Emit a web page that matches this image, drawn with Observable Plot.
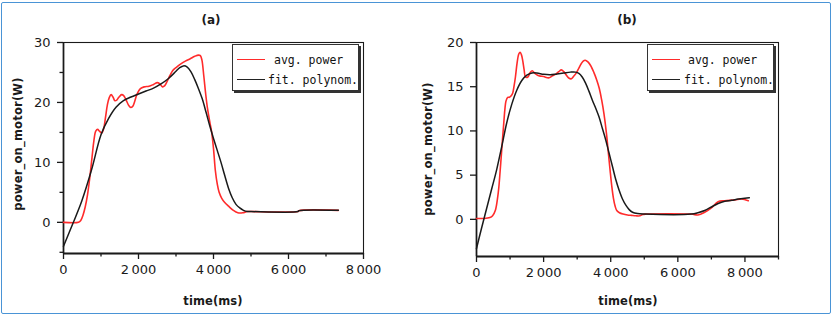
<!DOCTYPE html>
<html>
<head>
<meta charset="utf-8">
<script src="https://cdn.jsdelivr.net/npm/d3@7"></script>
<script src="https://cdn.jsdelivr.net/npm/@observablehq/plot@0.6"></script>
<style>
  html, body { margin: 0; padding: 0; background: #fff; }
  #wrap { position: relative; width: 835px; height: 317px; background: #fff; overflow: hidden; font-family: "DejaVu Sans", sans-serif; color: #1a1a1a; }
  #border { position: absolute; left: 0.5px; top: 1.5px; width: 828px; height: 310px; border: 1.6px solid #4a94d6; border-radius: 2px; }
  .panel { position: absolute; top: 0; }
  .title { position: absolute; font-size: 12px; font-weight: bold; transform: translate(-50%, -50%); white-space: nowrap; }
  .xlab { position: absolute; font-size: 11.5px; font-weight: bold; transform: translate(-50%, -50%); white-space: nowrap; letter-spacing: 0.1px; }
  .ylab { position: absolute; font-size: 11.5px; font-weight: bold; transform: translate(-50%, -50%) rotate(-90deg); white-space: nowrap; letter-spacing: 0.2px; }
  .legend { position: absolute; top: 43.5px; width: 125px; height: 45px; border: 1px solid #333; box-shadow: 2px 2px 0 #333; background: #fff; }
  .legend .sw { position: absolute; left: 4px; width: 28px; height: 0; border-top: 1.6px solid; }
  .legend .lt { position: absolute; font-family: "DejaVu Sans Mono", monospace; font-size: 11.5px; line-height: 12px; transform: translateY(-50%); white-space: nowrap; color: #111; }
</style>
</head>
<body>
<div id="wrap">
  <div id="border"></div>
  <div id="pa" class="panel" style="left:0"></div>
  <div id="pb" class="panel" style="left:417px"></div>

  <div class="title" style="left:211px;top:20px">(a)</div>
  <div class="title" style="left:627px;top:20px">(b)</div>
  <div class="xlab" style="left:213px;top:301px">time(ms)</div>
  <div class="xlab" style="left:628px;top:301px">time(ms)</div>
  <div class="ylab" style="left:18px;top:144px">power_on_motor(W)</div>
  <div class="ylab" style="left:428px;top:149px">power_on_motor(W)</div>

  <div class="legend" style="left:232px">
    <div class="sw" style="top:14.5px;border-color:#ff2b2b"></div>
    <div class="lt" style="left:41px;top:15px">avg. power</div>
    <div class="sw" style="top:34.5px;border-color:#222"></div>
    <div class="lt" style="left:35px;top:35px">fit. polynom.</div>
  </div>
  <div class="legend" style="left:647px">
    <div class="sw" style="top:14.5px;border-color:#ff2b2b"></div>
    <div class="lt" style="left:40px;top:15px">avg. power</div>
    <div class="sw" style="top:34.5px;border-color:#222"></div>
    <div class="lt" style="left:36px;top:35px">fit. polynom.</div>
  </div>
</div>
<script>
// Panel (a): measured average power and fitted polynomial, [time ms, power W]
const avgPowerA = [
  [0,0],[400,0],[460,0.3],[520,1.2],[580,2.6],[640,4.6],[700,7.4],[760,10.8],[810,13.6],
  [860,15.2],[910,15.5],[960,15.2],[1020,14.9],[1070,15.6],[1120,17.5],[1170,19.6],[1220,20.8],
  [1270,21.3],[1320,20.9],[1370,20.3],[1420,20.4],[1480,20.9],[1550,21.3],[1610,21.1],[1670,20.4],
  [1730,19.6],[1780,19.2],[1840,19.3],[1900,20.2],[1960,21.4],[2050,22.3],[2150,22.6],[2280,22.7],
  [2400,23.0],[2500,23.3],[2570,23.1],[2640,22.6],[2700,22.8],[2770,23.6],[2840,24.5],[2910,25.3],
  [3000,25.8],[3120,26.4],[3250,26.9],[3380,27.3],[3500,27.7],[3600,27.9],[3650,27.8],[3690,27.1],
  [3740,24.5],[3790,21.5],[3840,19.0],[3900,16.8],[3950,15.1],[4000,12.3],[4050,8.6],[4100,6.4],
  [4150,5.0],[4220,4.0],[4300,3.3],[4400,2.7],[4530,2.0],[4650,1.6],[4780,1.6],[4900,1.8],
  [5000,1.8],[6250,1.8],[6280,1.95],[7330,2.0]
];
const fitPolyA = [
  [0,-4.0],[250,-0.2],[490,3.6],[750,8.8],[1000,14.6],[1200,17.3],[1400,19.2],[1600,20.3],
  [1800,20.9],[2000,21.4],[2200,21.9],[2400,22.4],[2600,23.1],[2800,24.0],[3000,25.2],[3100,25.8],
  [3200,26.1],[3300,25.9],[3400,25.1],[3500,23.8],[3600,22.3],[3700,20.6],[3800,18.4],[3900,16.1],
  [4000,14.0],[4100,12.0],[4200,10.0],[4300,7.8],[4400,5.7],[4500,4.1],[4600,3.0],[4700,2.4],
  [4800,2.0],[4900,1.8],[5000,1.8],[6250,1.8],[6280,1.95],[7330,2.0]
];

// Panel (b)
const avgPowerB = [
  [0,0.1],[200,0.1],[400,0.2],[480,0.4],[560,1.0],[620,2.2],[665,3.6],[705,5.5],[745,7.5],
  [780,9.3],[815,11.0],[850,12.6],[880,13.4],[930,13.8],[980,13.8],[1040,14.0],[1080,14.3],
  [1120,15.1],[1160,16.1],[1210,17.7],[1260,18.7],[1300,18.9],[1340,18.6],[1380,17.9],[1420,16.9],
  [1460,16.1],[1530,16.1],[1600,16.6],[1660,16.8],[1740,16.5],[1820,16.3],[1900,16.2],[2000,16.15],
  [2150,16.0],[2250,16.2],[2350,16.4],[2450,16.7],[2530,16.9],[2600,16.7],[2680,16.3],[2760,15.95],
  [2830,15.9],[2900,16.2],[2980,16.6],[3050,17.1],[3120,17.6],[3180,17.9],[3240,18.0],[3320,17.8],
  [3400,17.4],[3500,16.6],[3580,15.8],[3660,14.8],[3730,13.5],[3800,11.9],[3870,9.8],[3930,7.5],
  [3980,5.6],[4030,3.8],[4080,2.4],[4130,1.5],[4180,1.0],[4260,0.75],[4370,0.6],[4500,0.5],
  [4620,0.45],[4750,0.4],[4870,0.4],[4950,0.55],[5050,0.6],[6400,0.6],[6600,0.5],[6800,0.8],
  [7000,1.3],[7200,2.0],[7400,2.1],[7700,2.2],[7900,2.3],[8100,2.1]
];
const fitPolyB = [
  [0,-3.3],[150,-1.0],[300,1.2],[450,3.4],[600,5.6],[750,8.2],[900,10.9],[1050,13.0],[1200,14.6],
  [1350,15.7],[1500,16.3],[1650,16.55],[1800,16.55],[2000,16.4],[2200,16.35],[2400,16.45],
  [2600,16.55],[2800,16.65],[2950,16.65],[3050,16.5],[3150,16.1],[3250,15.4],[3350,14.5],
  [3450,13.5],[3550,12.6],[3650,11.6],[3750,10.3],[3850,9.0],[3950,7.5],[4050,6.0],[4150,4.5],
  [4250,3.3],[4350,2.3],[4450,1.6],[4550,1.1],[4650,0.8],[4800,0.65],[5000,0.6],[6400,0.6],
  [6600,0.75],[6800,1.0],[7000,1.4],[7200,1.8],[7400,2.05],[7600,2.15],[7800,2.3],[8000,2.4],[8130,2.45]
];

// Axis ticks
const xMajor = [0, 2000, 4000, 6000, 8000];
const xMinorA = [1000, 3000, 5000, 7000];
const xMinorB = [1000, 3000, 5000, 7000, 9000];
const yMajorA = [0, 10, 20, 30];
const yMinorA = [-5, 5, 15, 25];
const yMajorB = [0, 5, 10, 15, 20];

const red = "#ff2b2b";
const ink = "#1a1a1a";
const fmtX = d => d3.format(",")(d).replace(/,/g, "\u2009");

function panel({width, marginLeft, marginRight, marginBottom, xDomain, yDomain, xMinor, yMajor, yMinor, avg, fit}) {
  return Plot.plot({
    width, height: 317,
    marginLeft, marginRight, marginTop: 42, marginBottom,
    x: {domain: xDomain},
    y: {domain: yDomain},
    style: {background: "transparent", fontFamily: "DejaVu Sans, sans-serif", fontSize: "13px", color: ink, overflow: "visible"},
    marks: [
      Plot.axisX(xMajor, {tickSize: 6, tickPadding: 5, tickFormat: fmtX, label: null, stroke: ink, strokeWidth: 1.3}),
      Plot.axisX(xMinor, {tickSize: 3.5, tickFormat: () => "", label: null, stroke: ink, strokeWidth: 1.3}),
      Plot.axisY(yMajor, {tickSize: 6, tickPadding: 7, label: null, stroke: ink, strokeWidth: 1.3}),
      ...(yMinor ? [Plot.axisY(yMinor, {tickSize: 3.5, tickFormat: () => "", label: null, stroke: ink, strokeWidth: 1.3})] : []),
      Plot.frame({stroke: ink, strokeWidth: 1.1}),
      Plot.ruleX([xDomain[0]], {stroke: ink, strokeWidth: 1.7}),
      Plot.ruleY([yDomain[0]], {stroke: ink, strokeWidth: 2.2}),
      Plot.line(avg, {x: d => d[0], y: d => d[1], stroke: red, strokeWidth: 1.6, curve: "catmull-rom"}),
      Plot.line(fit, {x: d => d[0], y: d => d[1], stroke: ink, strokeWidth: 1.5, curve: "catmull-rom"})
    ]
  });
}

document.getElementById("pa").append(panel({
  width: 417, marginLeft: 63, marginRight: 54, marginBottom: 64,
  xDomain: [0, 8000], yDomain: [-5.2, 30],
  xMinor: xMinorA, yMajor: yMajorA, yMinor: yMinorA,
  avg: avgPowerA, fit: fitPolyA
}));
document.getElementById("pb").append(panel({
  width: 418, marginLeft: 59, marginRight: 57, marginBottom: 61,
  xDomain: [0, 9000], yDomain: [-4.2, 20],
  xMinor: xMinorB, yMajor: yMajorB, yMinor: null,
  avg: avgPowerB, fit: fitPolyB
}));
</script>
</body>
</html>
